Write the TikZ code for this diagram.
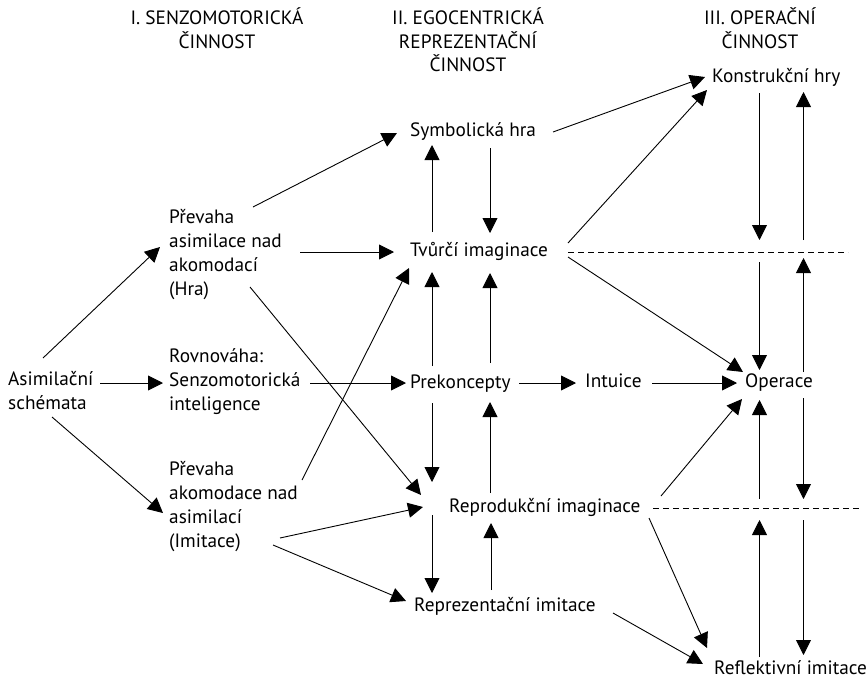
\documentclass[tikz,border=0pt]{standalone}
\usepackage{fontspec}
\setmainfont{PT Sans}
\usetikzlibrary{arrows.meta,calc}
\begin{document}
\begin{tikzpicture}[x=1pt,y=-1pt,
  lbl/.style={inner sep=0pt, font=\fontsize{19.3}{24}\selectfont, anchor=west, align=left,
              execute at begin node=\strut, execute at end node=\strut},
  hdr/.style={inner sep=0pt, font=\fontsize{19.3}{23.5}\selectfont, align=center,
              execute at begin node=\strut, execute at end node=\strut},
  arr/.style={line width=0.9pt, -{Triangle[length=15pt,width=15pt]}},
  dsh/.style={line width=0.9pt, dash pattern=on 6pt off 4pt}]
\useasboundingbox (0,0) rectangle (868,681);
% headers
\node[hdr] (h1) at (217,31.5) {I. SENZOMOTORICKÁ\\ČINNOST};
\node[hdr] (h2) at (468,43.5) {II. EGOCENTRICKÁ\\REPREZENTAČNÍ\\ČINNOST};
\node[hdr] (h3) at (760,31.5) {III. OPERAČNÍ\\ČINNOST};
% nodes
\node[lbl] (asi) at (8,394.5) {Asimilační\\schémata};
\node[lbl] (hra) at (169,256) {Převaha\\asimilace nad\\akomodací\\(Hra)};
\node[lbl] (rov) at (169,383) {Rovnováha:\\Senzomotorická\\inteligence};
\node[lbl] (imi) at (169,508) {Převaha\\akomodace nad\\asimilací\\(Imitace)};
\node[lbl] (sym) at (410,132) {Symbolická hra};
\node[lbl] (tvu) at (410,252) {Tvůrčí imaginace};
\node[lbl] (pre) at (410,384) {Prekoncepty};
\node[lbl] (int) at (585,383) {Intuice};
\node[lbl] (ope) at (745,383) {Operace};
\node[lbl] (rep) at (449,508) {Reprodukční imaginace};
\node[lbl] (rez) at (414,607) {Reprezentační imitace};
\node[lbl] (kon) at (712,78) {Konstrukční hry};
\node[lbl] (ref) at (714,670) {Reflektivní imitace};
% helper coordinates
\coordinate (d1) at (848,252);
\coordinate (d2) at (860,508);
\coordinate (cA) at (759.5,0);
\coordinate (cB) at (803.5,0);
% arrows from left column
\draw[arr] ($(asi.west)+(35,-36.5)$) -- ($(hra.west)+(-9,-9)$);
\draw[arr] ($(asi.west)+(92,-11.5)$) -- ($(rov.west)+(-6,0)$);
\draw[arr] ($(asi.west)+(44,22.5)$) -- ($(imi.west)+(-6,5)$);
\draw[arr] ($(hra.west)+(84,-49)$) -- ($(sym.west)+(-13,1)$);
\draw[arr] ($(hra.west)+(131,-4)$) -- ($(tvu.west)+(-16,0)$);
\draw[arr] ($(hra.west)+(81,31)$) -- ($(rep.west)+(-28,-13)$);
\draw[arr] ($(rov.west)+(141,0)$) -- ($(pre.west)+(-4,-1)$);
\draw[arr] ($(imi.west)+(133,-28)$) -- ($(tvu.west)+(-1,16)$);
\draw[arr] ($(imi.west)+(111,30)$) -- ($(rep.west)+(-26,-1)$);
\draw[arr] ($(imi.west)+(104,37)$) -- ($(rez.west)+(-8,-6)$);
% middle column verticals
\draw[arr] ($(tvu.west)+(22,-20)$) -- ($(sym.west)+(22,13)$);
\draw[arr] ($(sym.west)+(80,16)$) -- ($(tvu.west)+(80,-19)$);
\draw[arr] ($(pre.west)+(22,-18)$) -- ($(tvu.west)+(22,20)$);
\draw[arr] ($(pre.west)+(80,-21)$) -- ($(tvu.west)+(80,21)$);
\draw[arr] ($(pre.west)+(22,19)$) -- ($(rep.west)+(-17,-26)$);
\draw[arr] ($(rep.west)+(41,-15)$) -- ($(pre.west)+(80,18)$);
\draw[arr] ($(rep.west)+(-17,7)$) -- ($(rez.west)+(18,-14)$);
\draw[arr] ($(rez.west)+(77,-17)$) -- ($(rep.west)+(42,15)$);
% horizontals
\draw[arr] ($(pre.west)+(109,-1)$) -- ($(int.west)+(-9,0)$);
\draw[arr] ($(int.west)+(67,0)$) -- ($(ope.west)+(-8,0)$);
% to right column
\draw[arr] ($(sym.west)+(143,0)$) -- ($(kon.west)+(-7,-1)$);
\draw[arr] ($(tvu.west)+(158,-9)$) -- ($(kon.west)+(-5,12)$);
\draw[arr] ($(tvu.west)+(158,5)$) -- ($(ope.west)+(-2,-11)$);
\draw[arr] ($(rep.west)+(212,-12)$) -- ($(ope.west)+(-3,16)$);
\draw[arr] ($(rep.west)+(200,10)$) -- ($(ref.west)+(-7,-22)$);
\draw[arr] ($(rez.west)+(199,6)$) -- ($(ref.west)+(-11,-6)$);
% dashed lines
\draw[dsh] ($(tvu.west)+(158,0)$) -- (d1);
\draw[dsh] ($(rep.west)+(204,0)$) -- (d2);
% right column verticals
\draw[arr] ($(kon.west)+(47.5,15)$) -- ($(cA |- d1)+(0,-12)$);
\draw[arr] ($(cA |- d1)+(0,10)$) -- ($(ope.west)+(14.5,-13)$);
\draw[arr] ($(ope.west)+(58.5,-11)$) -- ($(cB |- d1)+(0,6)$);
\draw[arr] ($(cB |- d1)+(0,-12)$) -- ($(kon.west)+(91.5,14)$);
\draw[arr] ($(ref.west)+(45.5,-13)$) -- ($(cA |- d2)+(0,12)$);
\draw[arr] ($(cA |- d2)+(0,-9)$) -- ($(ope.west)+(14.5,17)$);
\draw[arr] ($(ope.west)+(58.5,15)$) -- ($(cB |- d2)+(0,-9)$);
\draw[arr] ($(cB |- d2)+(0,12)$) -- ($(ref.west)+(89.5,-15)$);
\end{tikzpicture}
\end{document}
